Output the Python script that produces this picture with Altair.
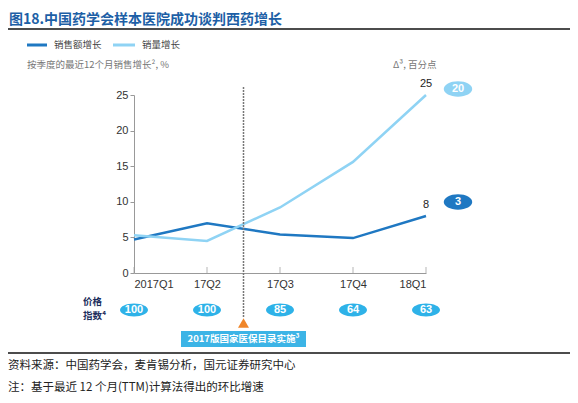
import json
import altair as alt
import pandas as pd

# ---- data ----
quarters = ["2017Q1", "17Q2", "17Q3", "17Q4", "18Q1"]
sales_growth = [4.7, 7.0, 5.4, 4.9, 8.0]      # 销售额增长
volume_growth = [5.3, 4.5, 9.2, 15.6, 25.0]   # 销量增长
price_index = [100, 100, 85, 64, 63]          # 价格指数
delta_values = ["20", "3"]                    # Δ, 百分点 (销量, 销售额)
event_at = 1.5                                # 2017版医保目录实施, between 17Q2 and 17Q3

DARK = "#1f78c2"
LIGHT = "#8fd3f4"
BADGE = "#2eb2e8"
CJK = "Noto Sans CJK SC"
LAT = "Liberation Sans"

W, H = 562, 387
idx = list(range(len(quarters)))

df = pd.DataFrame({
    "i": idx * 2,
    "v": sales_growth + volume_growth,
    "s": ["销售额增长"] * 5 + ["销量增长"] * 5,
})
df_end = df[df["i"] == idx[-1]].copy()
df_end["lab"] = df_end["v"].map(lambda v: f"{v:g}")
df_price = pd.DataFrame({"i": idx, "p": price_index})

xs = alt.Scale(domain=[0, 4], range=[126, 418], nice=False)
ys = alt.Scale(domain=[0, 25], range=[265, 87], nice=False)
label_expr = json.dumps(quarters) + "[datum.value]"

x_enc = alt.X("i:Q", scale=xs, title=None,
              axis=alt.Axis(values=idx, labelExpr=label_expr, offset=-(H - 265),
                            ticks=False, grid=False, labelPadding=5,
                            domainColor="#999", labelColor="#333",
                            labelFontSize=11, labelFont=LAT))
y_enc = alt.Y("v:Q", scale=ys, title=None,
              axis=alt.Axis(values=[0, 5, 10, 15, 20, 25], offset=-126, grid=False,
                            domainColor="#999", tickColor="#999", tickSize=4,
                            labelColor="#333", labelFontSize=11, labelFont=LAT,
                            labelPadding=2))

lines = alt.Chart(df).mark_line(strokeWidth=2.5).encode(
    x=x_enc, y=y_enc,
    color=alt.Color("s:N", scale=alt.Scale(domain=["销售额增长", "销量增长"],
                                            range=[DARK, LIGHT]), legend=None),
)

xticks = alt.Chart(df_price).mark_tick(orient="vertical", size=6, thickness=1,
                                       color="#999").encode(
    x=alt.X("i:Q", scale=xs), y=alt.value(262))

end_labels = alt.Chart(df_end).mark_text(font=LAT, fontSize=11, color="#222",
                                         dy=-11).encode(
    x=alt.X("i:Q", scale=xs), y=alt.Y("v:Q", scale=ys), text="lab:N")

df_event = pd.DataFrame({"i": [event_at]})
event_rule = alt.Chart(df_event).mark_rule(color="#777", strokeWidth=1.5,
                                           strokeDash=[2, 1]).encode(
    x=alt.X("i:Q", scale=xs), y=alt.value(79), y2=alt.value(310))
event_tri = alt.Chart(df_event).mark_point(shape="triangle-up", filled=True,
                                           size=120, color="#f0862a", opacity=1).encode(
    x=alt.X("i:Q", scale=xs), y=alt.value(315))

ELLIPSE = "M-1,0A1,0.46,0,1,1,1,0A1,0.46,0,1,1,-1,0Z"
ELLIPSE_R = "M-1,0A1,0.54,0,1,1,1,0A1,0.54,0,1,1,-1,0Z"

price_badges = alt.Chart(df_price).mark_point(shape=ELLIPSE, filled=True, size=784,
                                              color=BADGE, opacity=1).encode(
    x=alt.X("i:Q", scale=xs), y=alt.value(302))
price_text = alt.Chart(df_price).mark_text(font=LAT, fontSize=11, fontWeight="bold",
                                           color="white").encode(
    x=alt.X("i:Q", scale=xs), y=alt.value(302), text="p:N")

df_delta = pd.DataFrame({"t": delta_values, "c": [LIGHT, DARK], "py": [81, 194]})
delta_badges = alt.Chart(df_delta).mark_point(shape=ELLIPSE_R, filled=True, size=810,
                                              opacity=1).encode(
    x=alt.value(450), y=alt.Y("py:Q", scale=None),
    color=alt.Color("c:N", scale=None))
delta_text = alt.Chart(df_delta).mark_text(font=LAT, fontSize=11, fontWeight="bold",
                                           color="white").encode(
    x=alt.value(450), y=alt.Y("py:Q", scale=None), text="t:N")

one = pd.DataFrame({"a": [0]})


def txt(s, x, y, size=10, color="#333", weight="normal", align="left", font=CJK):
    return alt.Chart(one).mark_text(text=s, font=font, fontSize=size, color=color,
                                    fontWeight=weight, align=align,
                                    baseline="middle").encode(
        x=alt.value(x), y=alt.value(y))


def hrule(x1, x2, y, color, width):
    return alt.Chart(one).mark_rule(color=color, strokeWidth=width).encode(
        x=alt.value(x1), x2=alt.value(x2), y=alt.value(y))


title = txt("图18.中国药学会样本医院成功谈判西药增长", 1, 11.5, size=14,
            color="#1d5fa6", weight="bold")
top_line = hrule(0, W, 21, "#111", 1.5)
leg1 = hrule(19, 39, 37, DARK, 3)
leg1_t = txt("销售额增长", 46, 37, size=9.5, color="#444")
leg2 = hrule(105, 127, 37, LIGHT, 3)
leg2_t = txt("销量增长", 134, 37, size=9.5, color="#444")
sub_l = txt("按季度的最近12个月销售增长², %", 19, 57, size=9.5, color="#777")
sub_r = txt("Δ³, 百分点", 385, 57, size=9.5, color="#777")
pi1 = txt("价格", 75, 294, size=9.5, color="#1b2d5c", weight="bold")
pi2 = txt("指数⁴", 75, 308, size=9.5, color="#1b2d5c", weight="bold")

box = alt.Chart(one).mark_rect(color="#3cb4e6").encode(
    x=alt.value(173), x2=alt.value(298), y=alt.value(323), y2=alt.value(339))
box_t = txt("2017版国家医保目录实施³", 235.5, 331, size=9.5, color="white",
            weight="bold", align="center")

bottom_line = hrule(0, W, 345, "#111", 1.5)
foot1 = txt("资料来源：中国药学会，麦肯锡分析，国元证券研究中心", 0, 358, size=11.5,
            color="#222")
foot2 = txt("注：基于最近 12 个月(TTM)计算法得出的环比增速", 0, 380, size=11.5,
            color="#222")

chart = alt.layer(
    lines, xticks, end_labels, event_rule, event_tri,
    price_badges, price_text, delta_badges, delta_text,
    title, top_line, leg1, leg1_t, leg2, leg2_t, sub_l, sub_r, pi1, pi2,
    box, box_t, bottom_line, foot1, foot2,
).properties(
    width=W, height=H, padding=0,
    autosize=alt.AutoSizeParams(type="none"),
).configure_view(strokeWidth=0)

chart.save("out.html", embed_options={"renderer": "svg", "actions": False})
